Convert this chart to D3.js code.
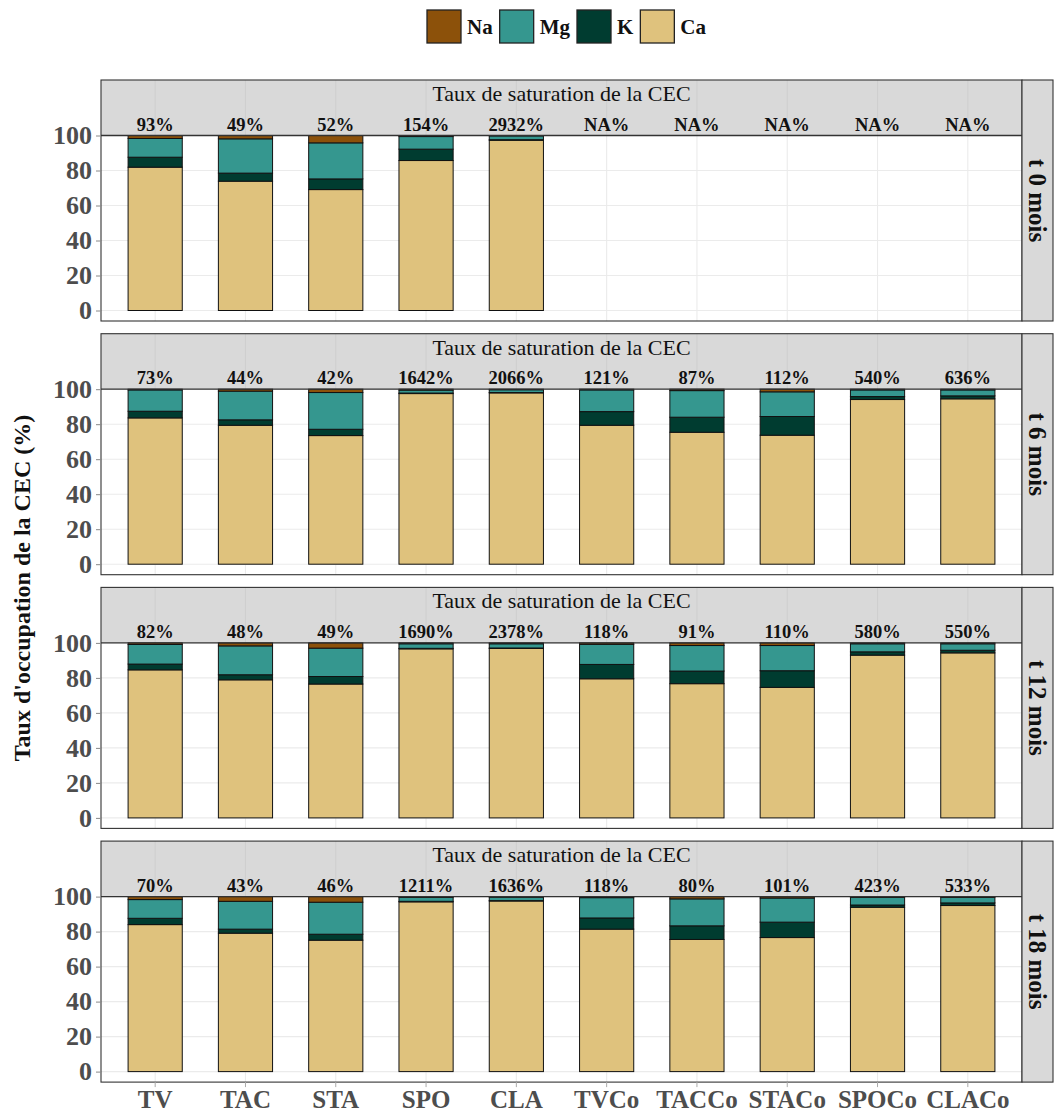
<!DOCTYPE html>
<html>
<head>
<meta charset="utf-8">
<script src="https://cdn.jsdelivr.net/npm/d3@7"></script>
<style>
  html, body { margin: 0; padding: 0; background: #fff; }
  svg { display: block; }
  text { font-family: "Liberation Serif", "DejaVu Serif", serif; }
</style>
</head>
<body>
<div id="chart"></div>
<script>
// ---------- DATA ----------
const categories = ["TV","TAC","STA","SPO","CLA","TVCo","TACCo","STACo","SPOCo","CLACo"];
const periods = ["t 0 mois","t 6 mois","t 12 mois","t 18 mois"];
const legendKeys = ["Na","Mg","K","Ca"];
const stackKeys = ["Ca","K","Mg","Na"];
const ionColors = ["#8c510a","#35978f","#003c30","#dfc27d"]; // Na, Mg, K, Ca

// rows = periods, columns = categories (null = no data)
const caValues = [
  [81.9, 73.9, 69.1, 85.7, 97.3, null, null, null, null, null],
  [83.6, 79.4, 73.5, 97.5, 97.9, 79.4, 75.4, 73.7, 94.1, 94.5],
  [84.6, 78.9, 76.5, 96.6, 96.8, 79.5, 76.7, 74.6, 93.0, 94.3],
  [84.0, 79.1, 75.1, 97.0, 97.5, 81.4, 75.5, 76.6, 93.9, 94.9]
];
const kValues = [
  [5.7, 4.6, 6.1, 6.5, 0.3, null, null, null, null, null],
  [3.8, 3.1, 3.6, 0.3, 0.2, 7.8, 8.6, 10.7, 1.7, 1.7],
  [3.3, 2.9, 4.3, 0.3, 0.3, 8.2, 7.2, 9.5, 1.9, 1.5],
  [3.6, 2.3, 3.4, 0.3, 0.2, 6.4, 7.8, 8.8, 1.3, 1.5]
];
const mgValues = [
  [10.7, 19.6, 20.6, 7.2, 2.2, null, null, null, null, null],
  [12.2, 16.4, 21.0, 1.7, 1.6, 12.4, 15.2, 14.1, 3.8, 3.4],
  [11.2, 16.5, 16.2, 2.6, 2.4, 11.5, 14.6, 14.4, 4.6, 3.7],
  [10.7, 15.9, 18.3, 2.3, 2.0, 11.6, 15.4, 13.8, 4.4, 3.2]
];
const naValues = [
  [1.7, 1.9, 4.2, 0.6, 0.2, null, null, null, null, null],
  [0.4, 1.1, 1.9, 0.5, 0.3, 0.4, 0.8, 1.5, 0.4, 0.4],
  [0.9, 1.7, 3.0, 0.5, 0.5, 0.8, 1.5, 1.5, 0.5, 0.5],
  [1.7, 2.7, 3.2, 0.4, 0.3, 0.6, 1.3, 0.8, 0.4, 0.4]
];
const saturationLabels = [
  ["93%","49%","52%","154%","2932%","NA%","NA%","NA%","NA%","NA%"],
  ["73%","44%","42%","1642%","2066%","121%","87%","112%","540%","636%"],
  ["82%","48%","49%","1690%","2378%","118%","91%","110%","580%","550%"],
  ["70%","43%","46%","1211%","1636%","118%","80%","101%","423%","533%"]
];
const yTicks = [0, 20, 40, 60, 80, 100];
const stripTitle = "Taux de saturation de la CEC";
const yTitle = "Taux d'occupation de la CEC (%)";

// ---------- LAYOUT ----------
const W = 1055, H = 1116;
const plotLeft = 101, plotRight = 1022, stripRight = 1053;
const panelStep = 253.7, firstTop = 80;
const headerH = 55.5, valueH = 175, bottomPad = 10.5;
const FONT = "'Liberation Serif', 'DejaVu Serif', serif";

const color = d3.scaleOrdinal().domain(legendKeys).range(ionColors);

const svg = d3.select("#chart").append("svg")
  .attr("width", W).attr("height", H);

const x = d3.scaleBand().domain(categories)
  .range([plotLeft, plotRight]).paddingInner(0.4).paddingOuter(0.3);

periods.forEach((period, pi) => {
  const top = firstTop + pi * panelStep;
  const y100 = top + headerH;
  const y0 = y100 + valueH;
  const bottom = y0 + bottomPad;
  const y = d3.scaleLinear().domain([0, 100]).range([y0, y100]);

  const g = svg.append("g");

  g.append("rect").attr("x", plotLeft).attr("y", top)
    .attr("width", plotRight - plotLeft).attr("height", bottom - top)
    .attr("fill", "#fff");

  g.selectAll(".hg").data(yTicks).join("line")
    .attr("x1", plotLeft).attr("x2", plotRight)
    .attr("y1", d => y(d)).attr("y2", d => y(d))
    .attr("stroke", "#ebebeb").attr("stroke-width", 1.1);

  g.append("rect").attr("x", plotLeft).attr("y", top)
    .attr("width", plotRight - plotLeft).attr("height", headerH)
    .attr("fill", "#d9d9d9");

  g.selectAll(".vg").data(categories).join("line")
    .attr("x1", d => x(d) + x.bandwidth() / 2).attr("x2", d => x(d) + x.bandwidth() / 2)
    .attr("y1", y100).attr("y2", bottom)
    .attr("stroke", "#ebebeb").attr("stroke-width", 1.1);
  g.selectAll(".vg2").data(categories).join("line")
    .attr("x1", d => x(d) + x.bandwidth() / 2).attr("x2", d => x(d) + x.bandwidth() / 2)
    .attr("y1", top).attr("y2", y100)
    .attr("stroke", "#cfcfcf").attr("stroke-width", 1.1);

  const rows = categories.map((c, ci) => ({
    cat: c,
    Ca: caValues[pi][ci], K: kValues[pi][ci], Mg: mgValues[pi][ci], Na: naValues[pi][ci]
  })).filter(r => r.Ca !== null);
  const stacked = d3.stack().keys(stackKeys)(rows);

  g.selectAll(".layer").data(stacked).join("g")
    .attr("fill", d => color(d.key))
    .selectAll("rect").data(d => d).join("rect")
    .attr("x", d => x(d.data.cat))
    .attr("width", x.bandwidth())
    .attr("y", d => y(d[1]))
    .attr("height", d => Math.max(0, y(d[0]) - y(d[1])))
    .attr("stroke", "#111").attr("stroke-width", 1);

  g.append("line").attr("x1", plotLeft).attr("x2", plotRight)
    .attr("y1", y100).attr("y2", y100)
    .attr("stroke", "#333").attr("stroke-width", 1.3);

  g.append("text").attr("x", (plotLeft + plotRight) / 2).attr("y", top + 21)
    .attr("text-anchor", "middle").attr("font-size", 22).attr("fill", "#111")
    .attr("font-family", FONT)
    .text(stripTitle);

  g.selectAll(".lab").data(categories).join("text")
    .attr("x", d => x(d) + x.bandwidth() / 2).attr("y", y100 - 5)
    .attr("text-anchor", "middle").attr("font-size", 18.5).attr("font-weight", "bold")
    .attr("fill", "#111").attr("font-family", FONT)
    .text((d, ci) => saturationLabels[pi][ci]);

  g.append("rect").attr("x", plotLeft).attr("y", top)
    .attr("width", plotRight - plotLeft).attr("height", bottom - top)
    .attr("fill", "none").attr("stroke", "#333").attr("stroke-width", 1.1);

  g.append("rect").attr("x", plotRight).attr("y", top)
    .attr("width", stripRight - plotRight).attr("height", bottom - top)
    .attr("fill", "#d9d9d9").attr("stroke", "#333").attr("stroke-width", 1.1);
  g.append("text")
    .attr("transform", `translate(${(plotRight + stripRight) / 2},${(top + bottom) / 2}) rotate(90)`)
    .attr("text-anchor", "middle").attr("dominant-baseline", "central")
    .attr("font-size", 25).attr("font-weight", "bold").attr("fill", "#111")
    .attr("font-family", FONT)
    .text(period);

  const ya = g.append("g").attr("transform", `translate(${plotLeft},0)`)
    .call(d3.axisLeft(y).tickValues(yTicks).tickSize(5).tickPadding(4));
  ya.select(".domain").remove();
  ya.selectAll(".tick line").attr("stroke", "#888");
  ya.selectAll(".tick text").attr("font-size", 26).attr("font-weight", "bold")
    .attr("fill", "#4d4d4d").attr("font-family", FONT);

  if (pi === periods.length - 1) {
    const xa = g.append("g").attr("transform", `translate(0,${bottom})`)
      .call(d3.axisBottom(x).tickSize(5).tickPadding(3));
    xa.select(".domain").remove();
    xa.selectAll(".tick line").attr("stroke", "#aaa");
    xa.selectAll(".tick text").attr("font-size", 25).attr("font-weight", "bold")
      .attr("fill", "#4d4d4d").attr("font-family", FONT);
  }
});

svg.append("text")
  .attr("transform", `translate(22,588) rotate(-90)`)
  .attr("text-anchor", "middle").attr("dominant-baseline", "central")
  .attr("font-size", 24).attr("font-weight", "bold").attr("fill", "#111")
  .attr("font-family", FONT)
  .text(yTitle);

const leg = svg.append("g");
let lx = 427;
legendKeys.forEach(k => {
  leg.append("rect").attr("x", lx).attr("y", 10).attr("width", 34).attr("height", 33)
    .attr("fill", color(k)).attr("stroke", "#222").attr("stroke-width", 1.3);
  const t = leg.append("text").attr("x", lx + 40).attr("y", 34)
    .attr("font-size", 21).attr("font-weight", "bold").attr("fill", "#111")
    .attr("font-family", FONT).text(k);
  lx += 40 + t.node().getComputedTextLength() + 7;
});
</script>
</body>
</html>
